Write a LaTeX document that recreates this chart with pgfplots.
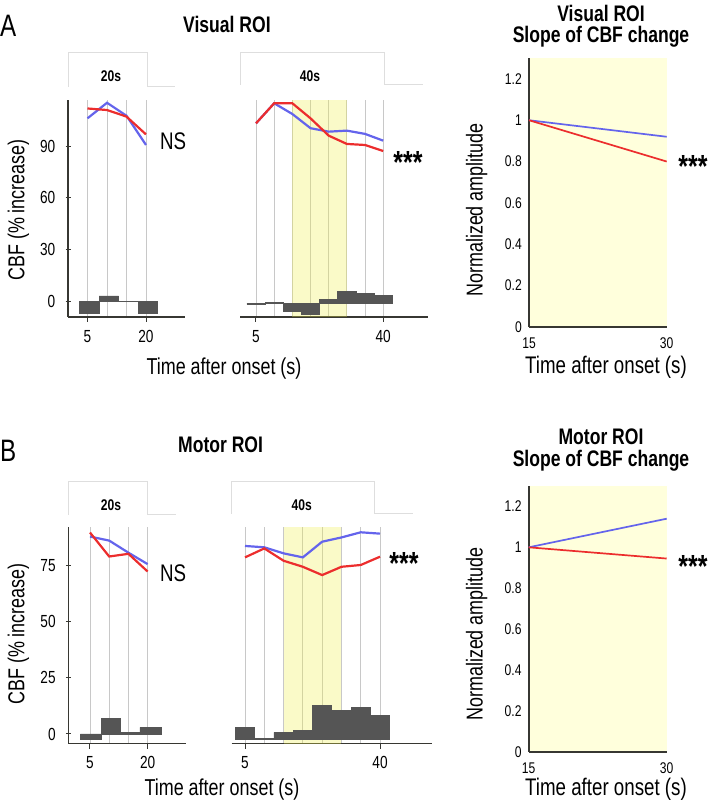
\documentclass[border=0pt]{standalone}
\usepackage{fontspec}
\setmainfont{Liberation Sans}[FakeStretch=0.78]
\usepackage{pgfplots}
\pgfplotsset{compat=1.18}
\definecolor{cred}{RGB}{236,45,45}
\definecolor{cblue}{RGB}{100,100,236}
\definecolor{cbar}{RGB}{85,85,85}
\definecolor{cgrid}{RGB}{200,200,200}
\definecolor{caxis}{RGB}{55,55,50}
\definecolor{cband}{RGB}{238,238,72}
\definecolor{cbg}{RGB}{255,255,220}
\definecolor{cstim}{RGB}{222,222,222}
\newcommand\fsz[1]{\fontsize{#1}{#1}\selectfont}

\pgfplotsset{
  panel/.style={scale only axis, clip=false, anchor=south west,
    tick style={caxis, line width=1pt},
    /pgf/number format/assume math mode=true},
  nolinetips/.style={axis line style={-, caxis, line width=#1},
    every outer x axis line/.append style={-},
    every outer y axis line/.append style={-}},
  tc/.style={panel, axis x line=bottom,
    xmajorgrids, xminorgrids,
    major grid style={cgrid, line width=0.9pt},
    minor grid style={cgrid, line width=0.9pt},
    tick align=outside, major tick length=5pt, minor tick length=0pt,
    tick label style={font=\fsz{17.5}, inner sep=0pt},
    xticklabel style={anchor=north, yshift=-8pt},
    yticklabel style={anchor=east, xshift=-10pt}},
  tcleft/.style={tc, axis y line=left, nolinetips=1.4pt},
  tcnoy/.style={tc, axis y line*=left, nolinetips=1.4pt,
    y axis line style={draw=none}, ytick=\empty},
  sl/.style={panel, axis x line=bottom, axis y line=left, nolinetips=1.8pt,
    xmin=15, xmax=30, ymin=0, ymax=1.3,
    xtick={15,30}, ytick={0,0.2,0.4,0.6,0.8,1,1.2},
    major tick length=0pt,
    axis background/.style={fill=cbg},
    tick label style={font=\fsz{15.5}, inner sep=0pt},
    xticklabel style={anchor=north, yshift=-11pt},
    yticklabel style={anchor=east, xshift=-7pt}},
  redln/.style={cred, line width=2.2pt},
  blueln/.style={cblue, line width=2.2pt},
  redsl/.style={cred, line width=1.7pt},
  bluesl/.style={cblue, line width=1.7pt},
  barst/.style={ybar interval, fill=cbar, draw=cbar, line width=0.8pt},
  band/.style={fill=cband, fill opacity=0.3, draw=none},
}

\begin{document}
\begin{tikzpicture}[x=1pt,y=1pt]
\useasboundingbox (0,0) rectangle (709,804);

% ---------- A: visual ROI, 20 s
\begin{axis}[tcleft, at={(68pt,487pt)}, width=117pt, height=217pt,
  xmin=0, xmax=30, ymin=-8.84, ymax=116.6,
  xtick={5,20}, minor xtick={10,15}, ytick={0,30,60,90}]
\addplot[barst] coordinates {(3,-6.7)(8,3.3)(13,0)(18,-6.7)(23,0)};
\addplot[blueln] coordinates {(5,106)(10,115)(15,107.5)(20,90.6)};
\addplot[redln] coordinates {(5,111.7)(10,110.8)(15,107)(20,96.7)};
\end{axis}

% ---------- A: visual ROI, 40 s
\begin{axis}[tcnoy, at={(240pt,487pt)}, width=188.3pt, height=217pt,
  xmin=0.6, xmax=52.4, ymin=-7.9, ymax=117.5,
  xtick={5,40}, minor xtick={10,15,20,25,30,35}]
\addplot[band] coordinates {(15,-7.9)(15,117.5)(30,117.5)(30,-7.9)};
\addplot[barst] coordinates {(2.5,-0.6)(7.5,0.35)(12.5,-4.9)(17.5,-6.2)(22.5,2.3)(27.5,6.7)(32.5,5.8)(37.5,4.8)(42.5,0)};
\addplot[blueln] coordinates {(5,104)(10,115.6)(15,109.4)(20,101.2)(25,99.2)(30,99.8)(35,97.9)(40,94)};
\addplot[redln] coordinates {(5,104)(10,115.6)(15,115.6)(20,106.9)(25,96.9)(30,92.1)(35,91.5)(40,88)};
\end{axis}

% ---------- A: slope
\begin{axis}[sl, at={(529pt,477.3pt)}, width=137.7pt, height=268.4pt]
\addplot[bluesl] coordinates {(15,1)(30,0.92)};
\addplot[redsl] coordinates {(15,1)(30,0.80)};
\end{axis}

% ---------- B: motor ROI, 20 s
\begin{axis}[tcleft, at={(68.3pt,60.5pt)}, width=117.4pt, height=216.8pt,
  xmin=-0.64, xmax=29.9, ymin=-4.24, ymax=92.5,
  xtick={5,20}, minor xtick={10,15}, ytick={0,25,50,75}]
\addplot[barst] coordinates {(2.5,-2.4)(8,7)(13,0.8)(18,3)(23.5,0)};
\addplot[blueln] coordinates {(5,88.1)(10,86.3)(15,80.9)(20,75.8)};
\addplot[redln] coordinates {(5,89.9)(10,79.2)(15,80.4)(20,72.5)};
\end{axis}

% ---------- B: motor ROI, 40 s
\begin{axis}[tcnoy, at={(231.7pt,60.5pt)}, width=200pt, height=216.8pt,
  xmin=1.55, xmax=53.4, ymin=-2.0, ymax=94.8,
  xtick={5,40}, minor xtick={10,15,20,25,30,35}]
\addplot[band] coordinates {(15,-2)(15,94.8)(30,94.8)(30,-2)};
\addplot[barst] coordinates {(2.5,5.2)(7.5,0.3)(12.5,3)(17.5,4)(22.5,14.9)(27.5,12.6)(32.5,14.2)(37.5,10.4)(42.5,0)};
\addplot[blueln] coordinates {(5,86.2)(10,85.6)(15,82.9)(20,81.1)(25,88.1)(30,90)(35,92.3)(40,91.7)};
\addplot[redln] coordinates {(5,81.1)(10,85.1)(15,79.6)(20,76.9)(25,73.2)(30,76.9)(35,77.7)(40,81.4)};
\end{axis}

% ---------- B: slope
\begin{axis}[sl, at={(528.7pt,52.3pt)}, width=138pt, height=265.7pt]
\addplot[bluesl] coordinates {(15,1)(30,1.14)};
\addplot[redsl] coordinates {(15,1)(30,0.945)};
\end{axis}

% ---------- labels, in pixel coordinates from the top
\begin{scope}[shift={(0,804)}, y=-1pt, every node/.style={inner sep=0pt}]
  % stimulus traces
  \draw[cstim, line width=1pt] (68,87)--(68,53)--(147,53)--(147,87)--(175,87);
  \draw[cstim, line width=1pt] (240.7,85)--(240.7,52.7)--(384.3,52.7)--(384.3,85)--(423.3,85);
  \draw[cstim, line width=1pt] (68.3,515)--(68.3,481.7)--(147.7,481.7)--(147.7,515)--(175.7,515);
  \draw[cstim, line width=1pt] (231.7,514)--(231.7,481.7)--(374.3,481.7)--(374.3,514)--(413.3,514);
  \node[font=\bfseries\fsz{15.5}, anchor=base] at (111,82) {20s};
  \node[font=\bfseries\fsz{15.5}, anchor=base] at (310,82) {40s};
  \node[font=\bfseries\fsz{15.5}, anchor=base] at (111,511) {20s};
  \node[font=\bfseries\fsz{15.5}, anchor=base] at (301.7,511) {40s};

  % panel letters and titles
  \node[font=\fsz{31}, anchor=base west] at (0,36.7) {A};
  \node[font=\fsz{31}, anchor=base west] at (0,461.7) {B};
  \node[font=\bfseries\fsz{22.5}, anchor=base west] at (183,32.3) {Visual ROI};
  \node[font=\bfseries\fsz{22.5}, anchor=base west] at (178,453) {Motor ROI};
  \node[font=\bfseries\fsz{22.5}, anchor=base] at (601,21.5) {Visual ROI};
  \node[font=\bfseries\fsz{22.5}, anchor=base] at (601,43) {Slope of CBF change};
  \node[font=\bfseries\fsz{22.5}, anchor=base] at (601,445) {Motor ROI};
  \node[font=\bfseries\fsz{22.5}, anchor=base] at (601,466.7) {Slope of CBF change};

  % axis labels
  \node[font=\fsz{23}, anchor=base] at (224,375) {Time after onset (s)};
  \node[font=\fsz{23}, anchor=base] at (222,795) {Time after onset (s)};
  \node[font=\fsz{24}, anchor=base] at (606,374) {Time after onset (s)};
  \node[font=\fsz{24}, anchor=base] at (606,795) {Time after onset (s)};
  \node[font=\fsz{23}, rotate=90] at (18.5,210) {CBF (\% increase)};
  \node[font=\fsz{23}, rotate=90] at (18.5,634) {CBF (\% increase)};
  \node[font=\fsz{23}, rotate=90] at (476.7,210) {Normalized amplitude};
  \node[font=\fsz{23}, rotate=90] at (476.7,634) {Normalized amplitude};

  % significance marks
  \node[font=\fsz{24}, anchor=base west] at (160,150) {NS};
  \node[font=\fsz{24}, anchor=base west] at (160,581.7) {NS};
  \node[font=\bfseries\fsz{32}, anchor=base] at (408,174) {***};
  \node[font=\bfseries\fsz{32}, anchor=base] at (404,575) {***};
  \node[font=\bfseries\fsz{32}, anchor=base] at (693,178) {***};
  \node[font=\bfseries\fsz{32}, anchor=base] at (693,578) {***};
\end{scope}
\end{tikzpicture}
\end{document}
